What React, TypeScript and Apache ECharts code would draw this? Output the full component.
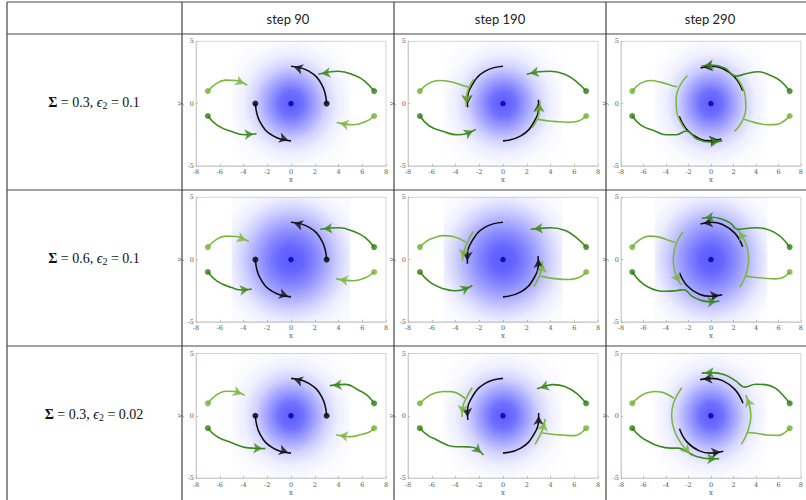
import React, { useEffect, useRef } from "react";
import * as echarts from "echarts";

// ---- table texts ----
const steps = [90, 190, 290];
const rowSigma = ["0.3", "0.6", "0.3"];
const rowEps = ["0.1", "0.1", "0.02"];

// ---- axes ----
const xRange = [-8, 8, 2];
const yRange = [-5, 5, 5];

// ---- background density blob (square extent in data units) ----
const blobExtent = [-5, 5, 5, -5];
const blobOffsets = [0, 0.1414, 0.2829, 0.4243, 0.5658, 0.7072, 0.8486, 1];
const blobAlphaNarrow = [0.8, 0.7, 0.46, 0.22, 0.08, 0.025, 0.006, 0];
const blobAlphaWide = [0.8, 0.75, 0.6, 0.42, 0.23, 0.085, 0.03, 0.01];

// ---- points ----
const centerPoint = [[0, 0]];
const blackStarts = [[3, 0], [-3, 0]];
const lightStarts = [[-7, 1], [7, -1]];
const darkStarts = [[-7, -1], [7, 1]];

// ---- row 1, step 90 ----
const r1c1_black1 = [[3, 0], [2.6, 1.5], [1.5, 2.6], [0, 3]];
const r1c1_black2 = [[-3, 0], [-2.6, -1.5], [-1.5, -2.6], [0, -3]];
const r1c1_lightL = [[-7, 1], [-6.3, 1.6], [-5.5, 1.88], [-4.6, 1.85], [-3.7, 1.47]];
const r1c1_darkL = [[-7, -1], [-6.2, -1.75], [-5, -2.25], [-3.9, -2.5], [-2.9, -2.42]];
const r1c1_darkR = [[7, 1], [6.2, 1.8], [5.4, 2.25], [4, 2.6], [2.3, 2.36]];
const r1c1_lightR = [[7, -1], [6.3, -1.45], [5.3, -1.7], [4.5, -1.65], [3.85, -1.52]];
// ---- row 1, step 190 ----
const r1c2_black1 = [[0, 3], [-1.5, 2.6], [-2.6, 1.5], [-3, 0.2], [-2.98, -0.3]];
const r1c2_black2 = [[0, -3], [1.5, -2.6], [2.6, -1.5], [3, -0.2], [2.98, 0.3]];
const r1c2_lightL = [[-7, 1], [-6.3, 1.6], [-5.4, 1.85], [-4.4, 1.75], [-3.5, 1.48], [-2.9, 1.32]];
const r1c2_lightLArc = [[-2.45, 1.95], [-2.85, 1.3], [-3.08, 0.5], [-3.1, -0.25]];
const r1c2_darkL = [[-7, -1], [-6.2, -1.8], [-5, -2.25], [-3.9, -2.5], [-3, -2.4], [-2.3, -2.08]];
const r1c2_darkR = [[7, 1], [6.2, 1.75], [5.2, 2.35], [4, 2.6], [3, 2.55], [2, 2.36]];
const r1c2_lightR = [[7, -1], [6.3, -1.42], [5.5, -1.5], [4.5, -1.45], [3.5, -1.35], [2.9, -1.27]];
const r1c2_lightRArc = [[2.45, -1.95], [2.85, -1.3], [3.08, -0.5], [3.1, 0.25]];
// ---- row 1, step 290 ----
const r1c3_black1 = [[2.82, 1.03], [2.12, 2.12], [1.03, 2.82], [0, 3], [-0.93, 2.85]];
const r1c3_black2 = [[-2.82, -1.03], [-2.12, -2.12], [-1.03, -2.82], [0, -3], [0.93, -2.85]];
const r1c3_darkR = [[7, 1], [6.2, 1.8], [5.3, 2.25], [4.2, 2.55], [3.2, 2.42], [2.2, 2.2], [1.25, 2.84], [0, 3.1], [-0.85, 3.0]];
const r1c3_darkL = [[-7, -1], [-6.2, -1.75], [-5, -2.2], [-4, -2.5], [-3.07, -2.5], [-2.2, -2.2], [-1.25, -2.84], [0, -3.1], [1, -3.0]];
const r1c3_lightL = [[-7, 1], [-6.3, 1.6], [-5.4, 1.85], [-4.4, 1.7], [-3.5, 1.45], [-3.0, 1.35]];
const r1c3_lightLArc = [[-2.1, 2.25], [-2.75, 1.45], [-3.1, 0.4], [-3.05, -0.6], [-2.75, -1.4], [-2.3, -2.05]];
const r1c3_lightR = [[7, -1], [6.5, -1.4], [5.9, -1.67], [5, -1.7], [4, -1.55], [2.95, -1.27]];
const r1c3_lightRArc = [[2.1, -2.25], [2.75, -1.45], [3.1, -0.4], [3.05, 0.6], [2.75, 1.4], [2.3, 2.05]];
// ---- row 2, step 90 ----
const r2c1_lightL = [[-7, 1], [-6.3, 1.6], [-5.5, 1.88], [-4.6, 1.85], [-3.56, 1.44]];
const r2c1_darkL = [[-7, -1], [-6.2, -1.75], [-5, -2.25], [-4.1, -2.45], [-3.3, -2.36]];
const r2c1_darkR = [[7, 1], [6.2, 1.8], [5.3, 2.25], [4, 2.55], [2.47, 2.44]];
const r2c1_lightR = [[7, -1], [6.3, -1.45], [5.3, -1.7], [4.5, -1.65], [3.8, -1.53]];
// ---- row 2, step 190 ----
const r2c2_black1 = [[0, 3], [-1.5, 2.6], [-2.6, 1.5], [-3, 0.2], [-3, -0.33]];
const r2c2_black2 = [[0, -3], [1.5, -2.6], [2.6, -1.5], [2.98, -0.2], [2.95, 0.28]];
const r2c2_lightL = [[-7, 1], [-6.4, 1.5], [-5.8, 1.75], [-5, 1.92], [-4.2, 1.85], [-3.15, 1.4]];
const r2c2_lightLArc = [[-2.5, 2.25], [-3.05, 1.3], [-3.35, 0.45], [-3.42, -0.1]];
const r2c2_darkL = [[-7, -1], [-6.1, -1.85], [-5, -2.35], [-4.1, -2.5], [-3.3, -2.4], [-2.58, -2.08]];
const r2c2_darkR = [[7, 1], [6.2, 1.75], [5.2, 2.35], [4, 2.55], [3.1, 2.5], [2.33, 2.44]];
const r2c2_lightR = [[7, -1], [6.4, -1.45], [5.6, -1.6], [4.5, -1.55], [3.17, -1.33]];
const r2c2_lightRArc = [[2.6, -2.2], [3.1, -1.25], [3.3, -0.5], [3.32, -0.1]];
// ---- row 2, step 290 ----
const r2c3_black2 = [[-2.8, -1.06], [-2.12, -2.1], [-1.03, -2.78], [0, -2.95], [1, -2.83]];
const r2c3_darkR = [[7, 1], [6.3, 1.75], [5.6, 2.2], [4.8, 2.48], [4, 2.55], [3.1, 2.5], [2.4, 2.42], [1.7, 2.94], [0.88, 3.28], [0, 3.4], [-0.82, 3.3]];
const r2c3_darkL = [[-7, -1], [-6.3, -1.75], [-5.6, -2.2], [-4.8, -2.48], [-4, -2.55], [-3.1, -2.5], [-2.4, -2.42], [-1.7, -2.94], [-0.88, -3.28], [0, -3.4], [0.75, -3.33]];
const r2c3_lightL = [[-7, 1], [-6.4, 1.55], [-5.5, 1.88], [-4.6, 1.8], [-3.8, 1.55], [-3.2, 1.39]];
const r2c3_lightLArc = [[-2.5, 2.22], [-3.1, 1.25], [-3.35, 0], [-3.15, -1.2], [-2.65, -2.03]];
const r2c3_lightR = [[7, -1], [6.4, -1.45], [5.7, -1.55], [4.8, -1.5], [4, -1.44], [3.13, -1.33]];
const r2c3_lightRArc = [[2.56, -2.22], [3.1, -1.25], [3.35, 0], [3.1, 1.3], [2.35, 2.45]];
// ---- row 3, step 90 ----
const r3c1_lightL = [[-7, 1], [-6.3, 1.65], [-5.5, 1.97], [-4.7, 1.95], [-3.9, 1.63]];
const r3c1_darkL = [[-7, -1], [-6.2, -1.7], [-5, -2.16], [-3.6, -2.58], [-2.16, -2.64]];
const r3c1_darkR = [[7, 1], [6.4, 1.65], [5.7, 2.05], [4.6, 2.52], [3.26, 2.42]];
const r3c1_lightR = [[7, -1], [6.6, -1.3], [6.1, -1.46], [4.9, -1.69], [3.8, -1.52]];
// ---- row 3, step 190 ----
const r3c2_black1 = [[0, 3], [-1.5, 2.6], [-2.6, 1.5], [-3, 0.2], [-2.95, -0.34]];
const r3c2_black2 = [[0, -3], [1.5, -2.6], [2.6, -1.5], [3, -0.2], [3, 0.22]];
const r3c2_lightL = [[-7, 1], [-6.4, 1.5], [-5.8, 1.8], [-5, 1.95], [-4.4, 1.94], [-3.2, 1.4]];
const r3c2_lightLArc = [[-2.6, 2.25], [-3.05, 1.5], [-3.4, 0.65], [-3.45, -0.1]];
const r3c2_darkL = [[-7, -1], [-6.3, -1.6], [-5.65, -1.9], [-4.2, -2.47], [-2.9, -2.5], [-2.3, -2.6], [-1.65, -3.15]];
const r3c2_darkR = [[7, 1], [6.2, 1.8], [5.2, 2.35], [4.2, 2.5], [3.5, 2.35], [2.86, 2.16]];
const r3c2_lightR = [[7, -1], [6.4, -1.5], [6, -1.6], [5, -1.55], [4.3, -1.5], [3.3, -1.38]];
const r3c2_lightRArc = [[2.7, -2.3], [3.1, -1.6], [3.4, -0.9], [3.55, -0.25]];
// ---- row 3, step 290 ----
const r3c3_black1 = [[2.85, 1.01], [2.12, 2.12], [1.03, 2.82], [0, 3], [-0.96, 2.9]];
const r3c3_black2 = [[-2.8, -1.04], [-2.12, -2.12], [-1.03, -2.82], [0, -3], [1.1, -2.85]];
const r3c3_darkR = [[7, 1], [6.3, 1.75], [5.66, 2.25], [4.8, 2.5], [3.97, 2.53], [3.0, 2.3], [2.2, 2.8], [1.2, 3.3], [0, 3.46], [-0.82, 3.42]];
const r3c3_darkL = [[-7, -1], [-6.3, -1.65], [-5.6, -2.05], [-4.6, -2.45], [-3.6, -2.6], [-2.9, -2.6], [-2.2, -2.85], [-1.2, -3.3], [0, -3.46], [0.73, -3.45]];
const r3c3_lightL = [[-7, 1], [-6.4, 1.5], [-5.8, 1.8], [-5, 1.95], [-4.4, 1.9], [-3.3, 1.4]];
const r3c3_lightLArc = [[-2.6, 2.25], [-3.3, 1.1], [-3.5, 0], [-3.25, -1.2], [-2.6, -2.3], [-1.66, -3.2]];
const r3c3_lightR = [[7, -1], [6.4, -1.45], [6, -1.58], [5, -1.55], [4.3, -1.45], [3.3, -1.35]];
const r3c3_lightRArc = [[2.7, -2.3], [3.25, -1.3], [3.55, 0], [3.4, 0.9], [3.1, 1.65]];

const K = "#111111";
const LG = "#7cb83e";
const DG = "#3b8a19";

type Seg = [number[][], string, boolean];

const panelSegs: Seg[][] = [
  [[r1c1_black1, K, true], [r1c1_black2, K, true], [r1c1_lightL, LG, true], [r1c1_darkL, DG, true], [r1c1_darkR, DG, true], [r1c1_lightR, LG, true]],
  [[r1c2_black1, K, true], [r1c2_black2, K, true], [r1c2_lightL, LG, false], [r1c2_lightLArc, LG, true], [r1c2_darkL, DG, true], [r1c2_darkR, DG, true], [r1c2_lightR, LG, false], [r1c2_lightRArc, LG, true]],
  [[r1c3_black1, K, true], [r1c3_black2, K, true], [r1c3_lightL, LG, false], [r1c3_lightLArc, LG, false], [r1c3_lightR, LG, false], [r1c3_lightRArc, LG, false], [r1c3_darkR, DG, true], [r1c3_darkL, DG, true]],
  [[r1c1_black1, K, true], [r1c1_black2, K, true], [r2c1_lightL, LG, true], [r2c1_darkL, DG, true], [r2c1_darkR, DG, true], [r2c1_lightR, LG, true]],
  [[r2c2_black1, K, true], [r2c2_black2, K, true], [r2c2_lightL, LG, false], [r2c2_lightLArc, LG, true], [r2c2_darkL, DG, true], [r2c2_darkR, DG, true], [r2c2_lightR, LG, false], [r2c2_lightRArc, LG, true]],
  [[r1c3_black1, K, true], [r2c3_black2, K, true], [r2c3_lightL, LG, false], [r2c3_lightLArc, LG, true], [r2c3_lightR, LG, false], [r2c3_lightRArc, LG, true], [r2c3_darkR, DG, true], [r2c3_darkL, DG, true]],
  [[r1c1_black1, K, true], [r1c1_black2, K, true], [r3c1_lightL, LG, true], [r3c1_darkL, DG, true], [r3c1_darkR, DG, true], [r3c1_lightR, LG, true]],
  [[r3c2_black1, K, true], [r3c2_black2, K, true], [r3c2_lightL, LG, false], [r3c2_lightLArc, LG, true], [r3c2_darkL, DG, true], [r3c2_darkR, DG, true], [r3c2_lightR, LG, false], [r3c2_lightRArc, LG, true]],
  [[r3c3_black1, K, true], [r3c3_black2, K, true], [r3c3_lightL, LG, false], [r3c3_lightLArc, LG, true], [r3c3_lightR, LG, false], [r3c3_lightRArc, LG, true], [r3c3_darkR, DG, true], [r3c3_darkL, DG, true]],
];

// layout (pixels)
const COL_LEFT = [196, 408, 621];
const ROW_TOP = [41.3, 197.3, 353.5];
const PW = 190;
const PH = 124.5;
const TABLE_X = [7, 182, 394, 606];
const TABLE_Y = [2, 34, 190, 346];

function blobStops(alphas: number[]) {
  return blobOffsets.map((o, i) => ({ offset: o, color: `rgba(50,50,255,${alphas[i]})` }));
}

function buildOption() {
  const grid: any[] = [];
  const xAxis: any[] = [];
  const yAxis: any[] = [];
  const series: any[] = [];
  const sx = PW / (xRange[1] - xRange[0]);
  const sy = PH / (yRange[1] - yRange[0]);
  const axisFont = "'DejaVu Serif', serif";

  for (let p = 0; p < 9; p++) {
    const r = Math.floor(p / 3);
    const c = p % 3;
    grid.push({
      left: COL_LEFT[c], top: ROW_TOP[r], width: PW, height: PH,
      show: true, borderColor: "#d4d4d4", borderWidth: 1, backgroundColor: "#fff",
    });
    xAxis.push({
      gridIndex: p, type: "value", min: xRange[0], max: xRange[1], interval: xRange[2],
      axisLine: { show: true, onZero: false, lineStyle: { color: "#cfcfcf", width: 1 } },
      axisTick: { show: true, inside: true, length: 2, lineStyle: { color: "#bbb" } },
      splitLine: { show: false },
      axisLabel: { fontSize: 6.5, color: "#555", margin: 3, fontFamily: axisFont },
      name: "x", nameLocation: "middle", nameGap: 11,
      nameTextStyle: { fontSize: 7, color: "#555", fontFamily: axisFont },
    });
    yAxis.push({
      gridIndex: p, type: "value", min: yRange[0], max: yRange[1], interval: yRange[2],
      axisLine: { show: true, onZero: false, lineStyle: { color: "#cfcfcf", width: 1 } },
      axisTick: { show: true, inside: true, length: 2, lineStyle: { color: "#bbb" } },
      splitLine: { show: false },
      axisLabel: { fontSize: 6.5, color: "#555", margin: 2, fontFamily: axisFont },
      name: "y", nameLocation: "middle", nameGap: 7, nameRotate: 90,
      nameTextStyle: { fontSize: 7, color: "#555", fontFamily: axisFont },
    });

    const alphas = r === 1 ? blobAlphaWide : blobAlphaNarrow;
    series.push({
      type: "custom", xAxisIndex: p, yAxisIndex: p, silent: true, z: 1,
      data: [blobExtent],
      encode: { x: [0, 2], y: [1, 3] },
      renderItem: (_params: any, api: any) => {
        const p0 = api.coord([api.value(0), api.value(1)]);
        const p1 = api.coord([api.value(2), api.value(3)]);
        return {
          type: "rect",
          shape: { x: p0[0], y: p0[1], width: p1[0] - p0[0], height: p1[1] - p0[1] },
          style: { fill: new echarts.graphic.RadialGradient(0.5, 0.5, 0.7071, blobStops(alphas)) },
        };
      },
    });

    const arrows: any[] = [];
    panelSegs[p].forEach(([pts, color, arrow]) => {
      series.push({
        type: "line", xAxisIndex: p, yAxisIndex: p, data: pts, smooth: 0.45,
        showSymbol: false, symbol: "none", silent: true, z: color === K ? 3 : 4,
        lineStyle: { color, width: 1.6 },
      });
      if (arrow) {
        const a = pts[pts.length - 1];
        const b = pts[pts.length - 2];
        const dx = (a[0] - b[0]) * sx;
        const dy = (a[1] - b[1]) * sy;
        const th = Math.atan2(dy, dx);
        const h = 3;
        arrows.push({
          value: a,
          symbolRotate: (th * 180) / Math.PI - 90,
          symbolOffset: [-Math.cos(th) * h, Math.sin(th) * h],
          itemStyle: { color },
        });
      }
    });
    series.push({
      type: "scatter", xAxisIndex: p, yAxisIndex: p, data: arrows, symbol: "arrow",
      symbolSize: [8, 9], silent: true, z: 5,
    });
    if (c === 0) {
      series.push({
        type: "scatter", xAxisIndex: p, yAxisIndex: p, data: blackStarts, symbolSize: 6,
        itemStyle: { color: "#000" }, silent: true, z: 6,
      });
    }
    series.push({
      type: "scatter", xAxisIndex: p, yAxisIndex: p, data: lightStarts, symbolSize: 6,
      itemStyle: { color: "#72b236" }, silent: true, z: 6,
    });
    series.push({
      type: "scatter", xAxisIndex: p, yAxisIndex: p, data: darkStarts, symbolSize: 6,
      itemStyle: { color: "#2f7d12" }, silent: true, z: 6,
    });
    series.push({
      type: "scatter", xAxisIndex: p, yAxisIndex: p, data: centerPoint, symbolSize: 5.5,
      itemStyle: { color: "#00009a" }, silent: true, z: 6,
    });
  }

  const graphic: any[] = [];
  const lineStyle = { stroke: "#444", lineWidth: 1.2 };
  TABLE_Y.forEach((y) => {
    graphic.push({ type: "line", shape: { x1: TABLE_X[0], y1: y, x2: 806, y2: y }, style: lineStyle, silent: true, z: 10 });
  });
  TABLE_X.forEach((x) => {
    graphic.push({ type: "line", shape: { x1: x, y1: TABLE_Y[0], x2: x, y2: 500 }, style: lineStyle, silent: true, z: 10 });
  });
  steps.forEach((s, i) => {
    const x0 = TABLE_X[i + 1];
    const x1 = i + 2 < TABLE_X.length ? TABLE_X[i + 2] : x0 + 208;
    graphic.push({
      type: "text", x: (x0 + x1) / 2, y: 18.5, silent: true, z: 10,
      style: {
        text: `step ${s}`, fill: "#222", font: "13px Lato, 'Open Sans', sans-serif",
        align: "center", verticalAlign: "middle",
      },
    });
  });
  const serif = "'Liberation Serif', serif";
  rowSigma.forEach((sig, i) => {
    const yc = TABLE_Y[i + 1] + 68;
    graphic.push({
      type: "text", x: 94, y: yc, silent: true, z: 10,
      style: {
        text: `{b|Σ} {t|=} {t|${sig},} {i|ϵ}{s|2} {t|=} {t|${rowEps[i]}}`,
        fill: "#111", font: `14px ${serif}`,
        align: "center", verticalAlign: "middle",
        rich: {
          b: { fontWeight: "bold", fontSize: 14, fontFamily: serif, fill: "#111" },
          t: { fontSize: 14, fontFamily: serif, fill: "#111" },
          i: { fontStyle: "italic", fontSize: 14, fontFamily: serif, fill: "#111" },
          s: { fontSize: 10, fontFamily: serif, fill: "#111", padding: [7, 0, 0, 0] },
        },
      },
    });
  });

  return { animation: false, backgroundColor: "#fff", grid, xAxis, yAxis, series, graphic };
}

export default function App() {
  const ref = useRef<HTMLDivElement>(null);
  useEffect(() => {
    if (!ref.current) return;
    const chart = echarts.init(ref.current, undefined, { renderer: "svg" });
    chart.setOption(buildOption() as any);
    return () => chart.dispose();
  }, []);
  return <div ref={ref} style={{ position: "absolute", left: 0, top: 0, width: 806, height: 500 }} />;
}
